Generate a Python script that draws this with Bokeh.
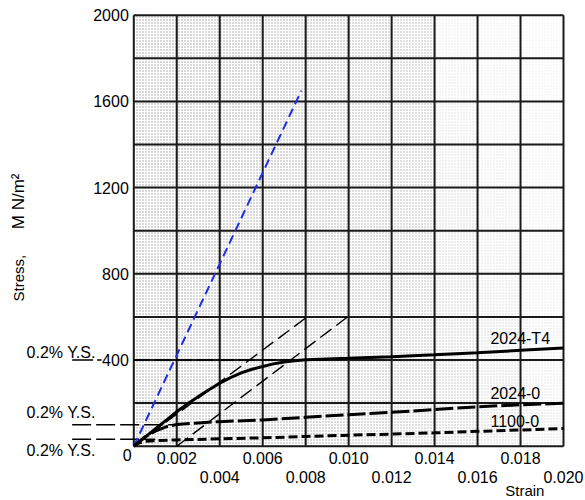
from bokeh.plotting import figure
from bokeh.models import Range1d, LinearAxis, FixedTicker, NumeralTickFormatter
from bokeh.core.properties import value
from bokeh.embed import file_html
from bokeh.resources import INLINE

# ---------------- data ----------------
strain_t4 = [0, 0.0005, 0.001, 0.0015, 0.002, 0.0025, 0.003, 0.0035, 0.004, 0.0045,
             0.005, 0.0055, 0.006, 0.0065, 0.007, 0.0075, 0.008, 0.009,
             0.010, 0.012, 0.014, 0.016, 0.018, 0.020]
stress_t4 = [0, 40, 80, 120, 160, 197, 230, 262, 292, 318,
             340, 357, 370, 382, 391, 397, 401, 405,
             408, 415, 424, 434, 445, 456]

strain_2024o = [0, 0.0005, 0.001, 0.0015, 0.002, 0.003, 0.004, 0.006, 0.008,
                0.010, 0.012, 0.014, 0.016, 0.018, 0.020]
stress_2024o = [0, 42, 70, 90, 101, 108, 114, 122, 134,
                146, 157, 170, 183, 192, 199]

strain_1100o = [0, 0.0002, 0.0005, 0.001, 0.002, 0.004, 0.006, 0.008,
                0.010, 0.012, 0.014, 0.016, 0.018, 0.020]
stress_1100o = [0, 14, 22, 26, 29, 34, 39, 45,
                51, 56, 62, 69, 75, 82]

steel_strain = [0, 0.0078]
steel_stress = [0, 1650]

offset1_strain = [0, 0.0080]
offset1_stress = [0, 595]
offset2_strain = [0.002, 0.00995]
offset2_stress = [0, 600]

ys_values = [400, 100, 32]
ys_end_strain = [0.0078, 0.0018, 0.0010]
ys_left_strain = -0.00287

x_grid = [0, 0.002, 0.004, 0.006, 0.008, 0.010, 0.012, 0.014, 0.016, 0.018, 0.020]
y_grid = [0, 200, 400, 600, 800, 1000, 1200, 1400, 1600, 1800, 2000]
y_ticks = [400, 800, 1200, 1600, 2000]
x_ticks_row1 = [0.002, 0.006, 0.010, 0.014, 0.018]
x_ticks_row2 = [0.004, 0.008, 0.012, 0.016, 0.020]

curve_labels = ["2024-T4", "2024-0", "1100-0"]
curve_label_x = [0.0166, 0.0166, 0.0166]
curve_label_y = [500, 245, 119]

ys_label = "0.2% Y.S."
ys_label_x = -0.00499
ys_label_y = [436, 158, -20]

FONT = "Liberation Sans"

# ---------------- figure ----------------
p = figure(width=585, height=500, output_backend="svg", toolbar_location=None,
           x_range=Range1d(-0.006204, 0.021024), y_range=Range1d(-252.0, 2068.2),
           x_axis_location=None, y_axis_location=None, min_border=0)
p.outline_line_color = None
p.grid.visible = False
p.background_fill_color = "white"
p.border_fill_color = "white"

# stippled background cells (texture fades toward the upper right)
col_alpha = [0.58, 0.58, 0.58, 0.56, 0.54, 0.5, 0.46, 0.42, 0.3, 0.2]
cell_l, cell_r, cell_b, cell_t, cell_a = [], [], [], [], []
for c in range(len(x_grid) - 1):
    for r in range(len(y_grid) - 1):
        cell_l.append(x_grid[c]); cell_r.append(x_grid[c + 1])
        cell_b.append(y_grid[r]); cell_t.append(y_grid[r + 1])
        fade = 1.0 - (0.07 * r if c >= 7 else 0.0)
        cell_a.append(col_alpha[c] * fade)
p.quad(left=cell_l, right=cell_r, bottom=cell_b, top=cell_t,
       fill_color="white", line_color=None,
       hatch_pattern=".", hatch_color="#555555", hatch_scale=3,
       hatch_weight=1, hatch_alpha=cell_a)

# grid
p.segment(x0=x_grid, y0=0, x1=x_grid, y1=2000, line_color="#1a1a1a", line_width=2)
p.segment(x0=0, y0=y_grid, x1=0.020, y1=y_grid, line_color="#1a1a1a", line_width=2)

# construction lines
p.line(offset1_strain, offset1_stress, line_color="black", line_width=1.4, line_dash="14 6")
p.line(offset2_strain, offset2_stress, line_color="black", line_width=1.4, line_dash="14 6")

# yield strength markers
p.segment(x0=ys_left_strain, y0=ys_values[0], x1=-0.0015, y1=ys_values[0],
          line_color="black", line_width=1.5, line_dash="21 4")
p.segment(x0=0, y0=ys_values[0], x1=ys_end_strain[0], y1=ys_values[0],
          line_color="black", line_width=1.5, line_dash="16 5")
p.segment(x0=ys_left_strain, y0=ys_values[1:], x1=ys_end_strain[1:], y1=ys_values[1:],
          line_color="black", line_width=1.5, line_dash="19 5")

# curves
p.line(steel_strain, steel_stress, line_color="#1f2de8", line_width=2, line_dash="9 5")
p.line(strain_1100o, stress_1100o, line_color="black", line_width=3, line_dash="9 4")
p.line(strain_2024o, stress_2024o, line_color="black", line_width=3, line_dash="18 4")
p.line(strain_t4, stress_t4, line_color="black", line_width=3)

# axes
yaxis = LinearAxis(fixed_location=0, ticker=FixedTicker(ticks=y_ticks),
                   axis_line_color=None, major_tick_line_color=None,
                   major_tick_out=0, major_tick_in=0,
                   minor_tick_line_color=None, minor_tick_out=0, minor_tick_in=0,
                   major_label_standoff=5,
                   major_label_text_font=FONT, major_label_text_font_size="16px",
                   major_label_text_color="black")
p.add_layout(yaxis, "left")

for ticks, standoff in ((x_ticks_row1, 6), (x_ticks_row2, 25)):
    ax = LinearAxis(fixed_location=0, ticker=FixedTicker(ticks=ticks),
                    formatter=NumeralTickFormatter(format="0.000"),
                    axis_line_color=None, major_tick_line_color=None,
                    major_tick_out=0, major_tick_in=0,
                    minor_tick_line_color=None, minor_tick_out=0, minor_tick_in=0,
                    major_label_standoff=standoff,
                    major_label_text_font=FONT, major_label_text_font_size="16px",
                    major_label_text_color="black")
    p.add_layout(ax, "below")

# texts
p.text(x=[-0.00031], y=[-43], text=["0"], text_font=value(FONT), text_font_size="16px",
       text_align="center", text_baseline="middle", text_color="black")
p.text(x=[0.0182], y=[-204], text=["Strain"], text_font=value(FONT), text_font_size="15px",
       text_align="center", text_baseline="middle", text_color="black")
p.text(x=[-0.00535], y=[780], text=["Stress,"], text_font=value(FONT),
       text_font_size="15px", text_align="center", text_baseline="middle",
       angle=1.5707963, text_color="black")
p.text(x=[-0.00535], y=[1136], text=["M N/m²"], text_font=value(FONT),
       text_font_size="17px", text_align="center", text_baseline="middle",
       angle=1.5707963, text_color="black")
p.text(x=[ys_label_x] * 3, y=ys_label_y, text=[ys_label] * 3, text_font=value(FONT),
       text_font_size="16px", text_align="left", text_baseline="middle",
       text_color="black")
p.text(x=curve_label_x, y=curve_label_y, text=curve_labels, text_font=value(FONT),
       text_font_size="16px", text_align="left", text_baseline="middle",
       text_color="black")

open("out.html", "w").write(file_html(p, INLINE))
